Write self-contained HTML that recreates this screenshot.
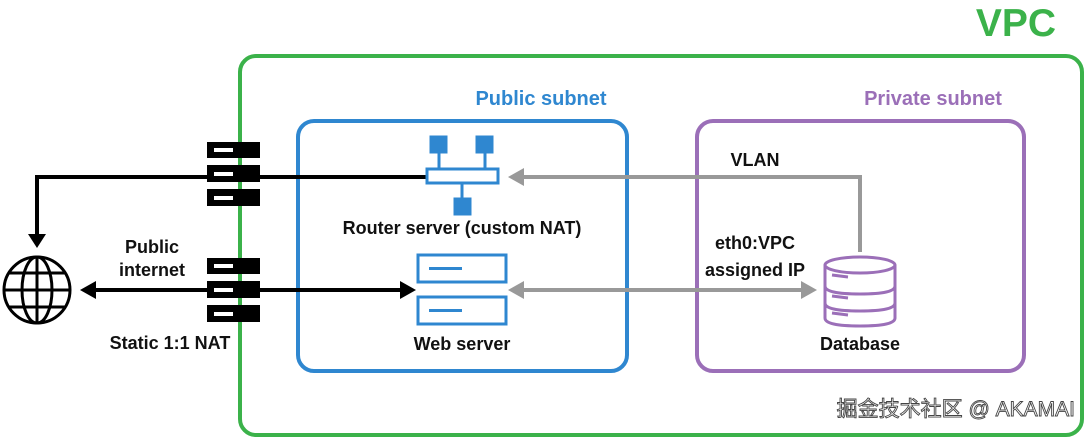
<!DOCTYPE html>
<html><head><meta charset="utf-8"><style>
html,body{margin:0;padding:0;background:#fff;width:1085px;height:438px;overflow:hidden}
text{font-family:"Liberation Sans","Noto Sans CJK SC",sans-serif;font-weight:bold}
</style></head><body>
<svg width="1085" height="438" viewBox="0 0 1085 438" xmlns="http://www.w3.org/2000/svg">
<rect x="240" y="56" width="842" height="379" rx="16" fill="none" stroke="#3bb24a" stroke-width="4"/>
<text x="1016" y="36" font-size="39" fill="#3bb24a" text-anchor="middle">VPC</text>
<rect x="298" y="121" width="329" height="250" rx="16" fill="none" stroke="#2f87d0" stroke-width="4"/>
<text x="541" y="105" font-size="20" fill="#2f87d0" text-anchor="middle">Public subnet</text>
<rect x="697" y="121" width="327" height="250" rx="16" fill="none" stroke="#9b6fb8" stroke-width="4"/>
<text x="933" y="105" font-size="20" fill="#9b6fb8" text-anchor="middle">Private subnet</text>

<polyline points="426,177 37,177 37,236" fill="none" stroke="#000" stroke-width="4"/>
<path d="M28,234 L46,234 L37,248z" fill="#000"/>
<line x1="92" y1="290" x2="402" y2="290" stroke="#000" stroke-width="4"/>
<path d="M80,290 L96,281 L96,299z" fill="#000"/>
<path d="M416,290 L400,281 L400,299z" fill="#000"/>

<polyline points="860,252 860,177 522,177" fill="none" stroke="#999" stroke-width="4"/>
<path d="M508,177 L524,168 L524,186z" fill="#999"/>
<line x1="522" y1="290" x2="803" y2="290" stroke="#999" stroke-width="4"/>
<path d="M508,290 L524,281 L524,299z" fill="#999"/>
<path d="M817,290 L801,281 L801,299z" fill="#999"/>

<g fill="#000">
<rect x="207" y="142" width="53" height="16"/><rect x="207" y="165" width="53" height="17"/><rect x="207" y="189" width="53" height="17"/>
<rect x="207" y="258" width="53" height="16"/><rect x="207" y="281" width="53" height="17"/><rect x="207" y="305" width="53" height="17"/>
</g>
<g fill="#fff">
<rect x="214" y="148" width="19" height="4"/><rect x="214" y="172" width="19" height="4"/><rect x="214" y="196" width="19" height="4"/>
<rect x="214" y="264" width="19" height="4"/><rect x="214" y="288" width="19" height="4"/><rect x="214" y="312" width="19" height="4"/>
</g>

<g fill="none" stroke="#000" stroke-width="3">
<circle cx="37" cy="290" r="33"/>
<ellipse cx="37" cy="290" rx="15" ry="33"/>
<line x1="37" y1="257" x2="37" y2="323"/>
<line x1="4" y1="290" x2="70" y2="290"/>
<line x1="9" y1="273" x2="65" y2="273"/>
<line x1="9" y1="307" x2="65" y2="307"/>
</g>

<g stroke="#2f87d0" stroke-width="3" fill="#2f87d0">
<rect x="431" y="137" width="15" height="15"/><rect x="477" y="137" width="15" height="15"/><rect x="455" y="199" width="15" height="15"/>
<line x1="439" y1="152" x2="439" y2="169"/><line x1="485" y1="152" x2="485" y2="169"/><line x1="462" y1="184" x2="462" y2="199"/>
<rect x="427" y="169" width="71" height="14" fill="#fff"/>
</g>
<g stroke="#2f87d0" stroke-width="3" fill="#fff">
<rect x="418" y="255" width="88" height="27"/><rect x="418" y="297" width="88" height="27"/>
</g>
<g fill="#2f87d0"><rect x="429" y="267" width="33" height="3"/><rect x="429" y="309" width="33" height="3"/></g>

<g stroke="#9b6fb8" stroke-width="3" fill="#fff">
<path d="M825,265 L825,318 Q825,326 860,326 Q895,326 895,318 L895,265"/>
<ellipse cx="860" cy="265" rx="35" ry="8"/>
<path d="M825,286 Q825,294 860,294 Q895,294 895,286"/>
<path d="M825,303 Q825,311 860,311 Q895,311 895,303" fill="none"/>
</g>
<g stroke="#9b6fb8" stroke-width="3"><line x1="832" y1="275" x2="848" y2="277"/><line x1="832" y1="296" x2="848" y2="298"/><line x1="832" y1="313" x2="848" y2="315"/></g>

<g font-size="18" fill="#111" text-anchor="middle">
<text x="152" y="253">Public</text>
<text x="152" y="276">internet</text>
<text x="170" y="349">Static 1:1 NAT</text>
<text x="462" y="234">Router server (custom NAT)</text>
<text x="462" y="350">Web server</text>
<text x="860" y="350">Database</text>
<text x="755" y="166">VLAN</text>
<text x="755" y="249">eth0:VPC</text>
<text x="755" y="276">assigned IP</text>
</g>
<text x="1075" y="416" font-size="21" fill="#fff" stroke="#444" stroke-width="0.9" text-anchor="end" style="font-weight:normal">掘金技术社区 @ AKAMAI</text>
</svg>
</body></html>
